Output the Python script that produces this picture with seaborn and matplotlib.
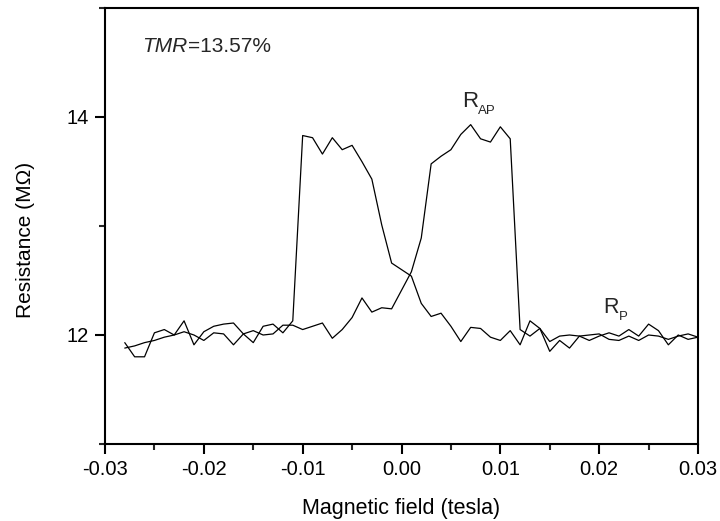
import numpy as np
import pandas as pd
import matplotlib
matplotlib.use("Agg")
import matplotlib.pyplot as plt
import seaborn as sns
from matplotlib.ticker import MultipleLocator, FormatStrFormatter

field = [-0.028, -0.027, -0.026, -0.025, -0.024, -0.023, -0.022, -0.021, -0.020, -0.019,
         -0.018, -0.017, -0.016, -0.015, -0.014, -0.013, -0.012, -0.011, -0.010, -0.009,
         -0.008, -0.007, -0.006, -0.005, -0.004, -0.003, -0.002, -0.001, 0.000, 0.001,
         0.002, 0.003, 0.004, 0.005, 0.006, 0.007, 0.008, 0.009, 0.010, 0.011,
         0.012, 0.013, 0.014, 0.015, 0.016, 0.017, 0.018, 0.019, 0.020, 0.021,
         0.022, 0.023, 0.024, 0.025, 0.026, 0.027, 0.028, 0.029, 0.030]

sweep_a = [11.93, 11.80, 11.80, 12.02, 12.05, 12.00, 12.13, 11.91, 12.03, 12.08,
           12.10, 12.11, 12.01, 11.93, 12.08, 12.10, 12.02, 12.13, 13.83, 13.81,
           13.66, 13.81, 13.70, 13.74, 13.59, 13.43, 13.01, 12.66, 12.60, 12.54,
           12.29, 12.17, 12.20, 12.08, 11.94, 12.07, 12.06, 11.98, 11.95, 12.04,
           11.91, 12.13, 12.06, 11.85, 11.95, 11.88, 11.99, 11.95, 11.99, 12.02,
           11.99, 12.05, 11.99, 12.10, 12.04, 11.91, 12.00, 11.96, 11.98]

sweep_b = [11.88, 11.90, 11.93, 11.95, 11.98, 12.00, 12.03, 12.00, 11.95, 12.02,
           12.01, 11.91, 12.01, 12.04, 12.00, 12.01, 12.09, 12.09, 12.05, 12.08,
           12.11, 11.97, 12.05, 12.16, 12.34, 12.21, 12.25, 12.24, 12.41, 12.58,
           12.89, 13.57, 13.64, 13.70, 13.84, 13.93, 13.80, 13.77, 13.91, 13.80,
           12.05, 11.99, 12.06, 11.94, 11.99, 12.00, 11.99, 12.00, 12.01, 11.96,
           11.95, 11.99, 11.95, 12.00, 11.99, 11.96, 11.99, 12.01, 11.98]

x_ticks = [-0.03, -0.02, -0.01, 0.00, 0.01, 0.02, 0.03]
y_ticks = [12, 14]

sns.set_theme(style="ticks")
plt.rcParams['font.family'] = ['Liberation Sans', 'DejaVu Sans']
plt.rcParams['axes.unicode_minus'] = False

df = pd.DataFrame({
    "field": field * 2,
    "R": sweep_a + sweep_b,
    "sweep": ["a"] * len(field) + ["b"] * len(field),
})

fig = plt.figure(figsize=(7.2, 5.21), dpi=100)
ax = fig.add_axes([105 / 720, 1 - 444 / 521, (698 - 105) / 720, (444 - 8) / 521])

sns.lineplot(data=df, x="field", y="R", hue="sweep", palette=["black", "black"],
             linewidth=0.9, legend=False, ax=ax, sort=False, estimator=None)

ax.set_xlim(-0.03, 0.03)
ax.set_ylim(11, 15)
ax.set_xticks(x_ticks)
ax.xaxis.set_minor_locator(MultipleLocator(0.005))
ax.xaxis.set_major_formatter(FormatStrFormatter('%.2f'))
ax.set_yticks(y_ticks)
ax.yaxis.set_minor_locator(MultipleLocator(1))

for s in ax.spines.values():
    s.set_visible(True)
    s.set_linewidth(1.5)
    s.set_color("black")

ax.tick_params(axis="both", which="major", direction="out", length=7.5, width=1.5,
               labelsize=14.5, colors="black", pad=4, top=False, right=False)
ax.tick_params(axis="both", which="minor", direction="out", length=4.5, width=1.5,
               top=False, right=False)

ax.set_xlabel("Magnetic field (tesla)", fontsize=15.5, color="black", labelpad=14)
ax.set_ylabel("Resistance (M\u03a9)", fontsize=15, color="black")
ax.yaxis.set_label_coords(-0.118, 0.468)

fig.canvas.draw()
inv = ax.transData.inverted()

def after(txt):
    bb = txt.get_window_extent()
    return inv.transform((bb.x1, bb.y0))[0]

tmr = ax.text(-0.0262, 14.65, "TMR", fontsize=15, style="italic", va="center", ha="left")
fig.canvas.draw()
ax.text(after(tmr), 14.65, "=13.57%", fontsize=15, va="center", ha="left")

r1 = ax.text(0.0061, 14.094, "R", fontsize=16, va="baseline", ha="left")
fig.canvas.draw()
ax.text(after(r1), 14.025, "AP", fontsize=9.5, va="baseline", ha="left")

r2 = ax.text(0.0204, 12.202, "R", fontsize=15.5, va="baseline", ha="left")
fig.canvas.draw()
ax.text(after(r2), 12.138, "P", fontsize=9.5, va="baseline", ha="left")

fig.savefig("out.png", dpi=100)
